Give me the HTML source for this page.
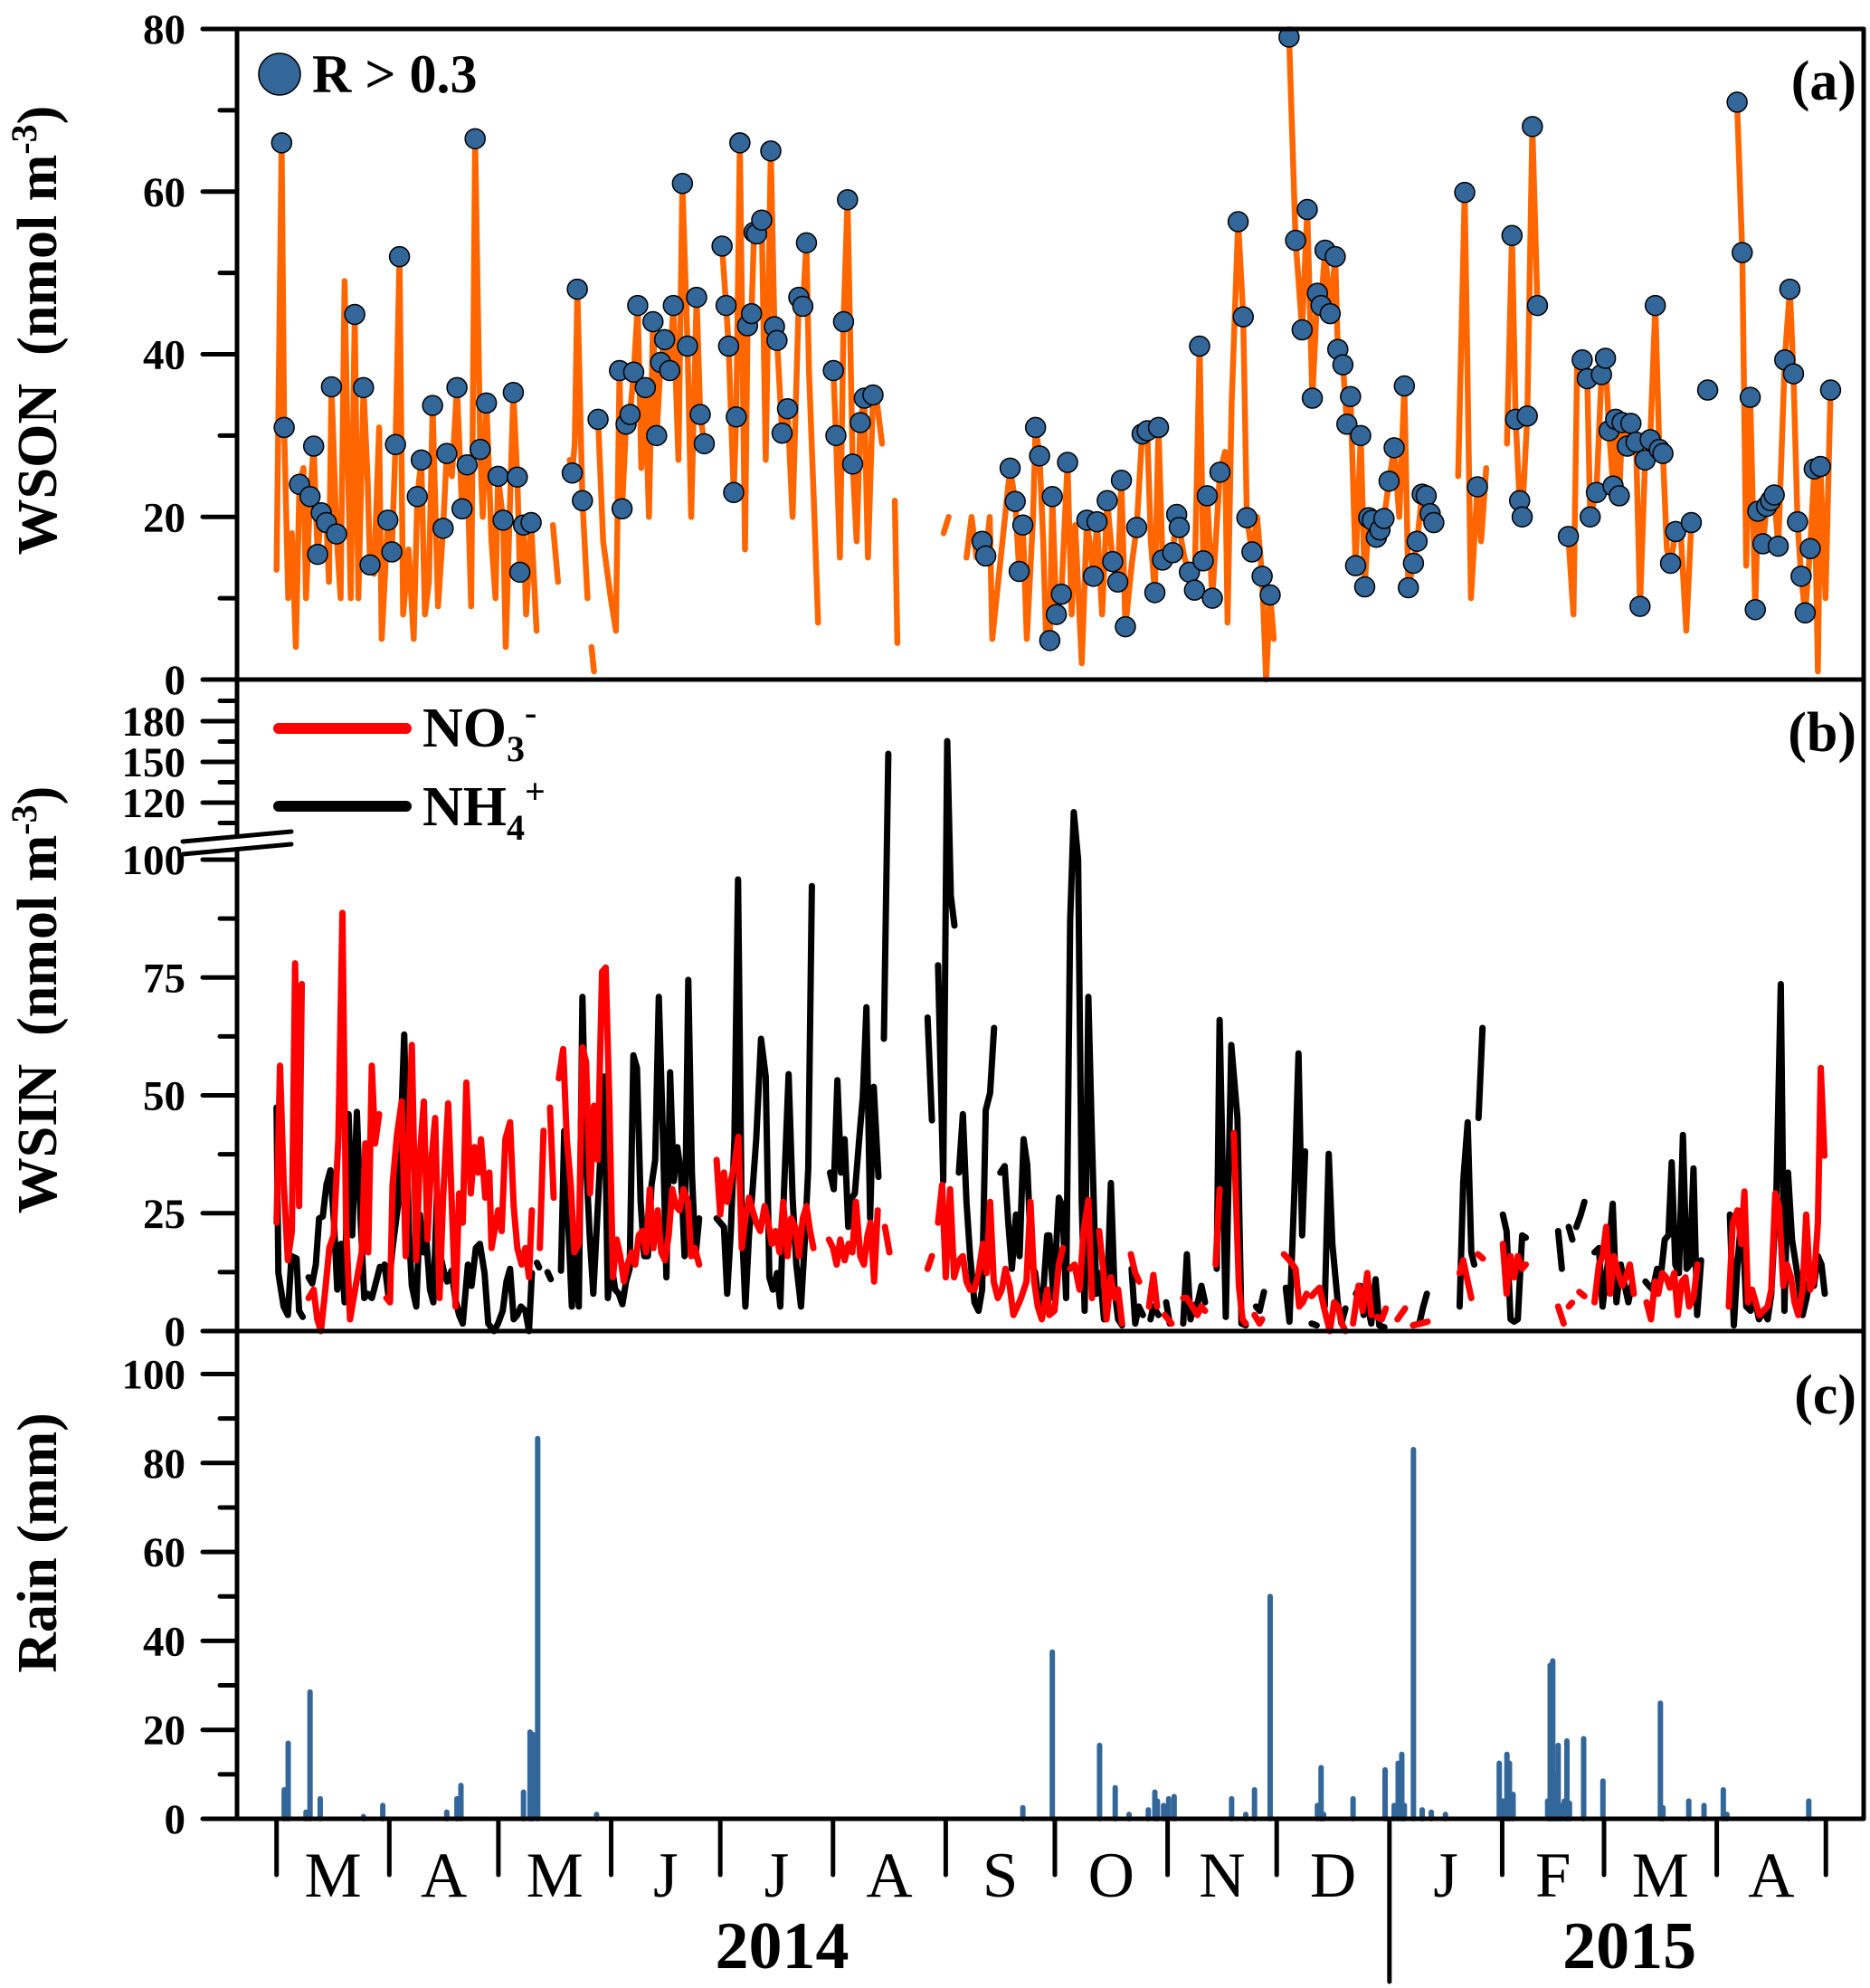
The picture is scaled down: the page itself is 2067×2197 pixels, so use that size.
<!DOCTYPE html>
<html>
<head>
<meta charset="utf-8">
<style>
html,body{margin:0;padding:0;background:#fff;}
svg{display:block;}
text{font-family:"Liberation Serif","Times New Roman",serif;}
</style>
</head>
<body>
<svg id="chart" width="2067" height="2197" viewBox="0 0 2067 2197" xmlns="http://www.w3.org/2000/svg">
<rect width="2067" height="2197" fill="#fff"/>
<g id="gA"></g>
<g id="gB"></g>
<g id="gC"></g>
<g id="gAxes"></g>
</svg>
<script>
// ---------- DATA ----------
const monthLabels = ["M","A","M","J","J","A","S","O","N","D","J","F","M","A"];
const monthStartDays = [0,31,61,92,122,153,184,214,245,275,306,337,365,396,426];
const yearLabels = ["2014","2015"];
const yearCenterDays = [139,372];
const ticksA = [0,20,40,60,80];
const ticksBLow = [0,25,50,75,100];
const ticksBHigh = [120,150,180];
const ticksC = [0,20,40,60,80,100];

const wsonLine = [[0,13.5],[1.4,66],[2.1,31],[3.2,10],[4.2,18],[5.3,4],[6.3,24],[7.4,26],[8.1,10],[9.2,22.5],[10.2,28.7],[11.3,15.4],[12.3,20.5],[13.7,19.3],[14.4,12],[15.1,36],[16.5,17.9],[17.6,10],[18.7,49],[19.7,25],[20.4,10],[21.5,44.9],[22.5,10],[23.9,35.9],[25,25],[25.7,14.1],[26.8,13],[28.2,31],[28.9,5],[30.6,19.6],[31.7,15.7],[32.7,28.9],[33.8,52],[34.8,8],[36.3,16],[37.7,5],[38.7,22.5],[39.8,27],[40.8,8],[41.9,12],[42.9,33.7],[44.4,9],[45.8,18.6],[46.8,27.8],[48.2,25],[49.6,35.9],[51,21],[52.4,26.4],[53.5,9],[54.6,66.5],[56,28.3],[56.7,20],[57.7,34],[59.1,17],[60.2,10],[60.9,25],[62.3,19.6],[63,4],[65.1,35.3],[66.2,24.9],[66.9,13.2],[67.9,19],[68.6,8],[70,19.3],[71.5,6],null,
[76,19],[77.4,12],null,[80.6,27],[81.3,25.4],[82,29],[82.7,48],[84.1,22],[85.5,10],null,[86.6,4],[87.3,1],null,
[88.4,32],[89.8,17],[91.9,10],[93.3,6],[94.3,38],[95,21],[96.1,31.4],[97.2,32.6],[98.2,37.8],[99.3,46],[100.3,26],[101.4,35.9],[102.4,20],[103.5,44],[104.5,30],[105.6,39],[106.7,41.8],[108.1,38],[109.1,46],[110.5,27],[111.6,61],[113,41],[114,20],[115.5,47],[116.5,32.6],[117.6,29],null,
[122.5,53.3],[123.6,46],[124.3,41],[125.7,23],[126.4,32.3],[127.4,66],[128.8,16],[129.5,43.5],[130.6,45],[131.3,55],[132,54.8],[133.4,56.5],[134.5,27],[135.9,65],[136.9,43.4],[137.6,41.7],[139,30.3],[140.5,33.3],[141.9,20],[143.6,47],[144.7,45.9],[145.7,53.7],[146.4,38],[147.8,21],[148.9,7],null,
[153.1,38],[153.8,30],[154.9,15],[155.9,44],[157,59],[158.4,26.5],[159.5,17],[160.5,31.6],[161.6,34.6],[162.6,15],[164,35],[165.1,34],[166.5,29],null,
[170,22],[170.7,4.5],null,[183.4,18],[184.8,20],null,
[189.7,15],[191.1,20],[192.5,15],[194,17],[195,15.2],[196.1,20],[196.8,5],[200.3,20],[201.7,26],[203.1,21.9],[204.2,13.3],[205.2,19],[206.3,5],[208,20],[208.7,31],[209.8,27.5],[210.8,17],[211.6,5],[212.6,4.8],[213.3,22.5],[214.4,8],[215.8,10.5],[217.5,26.7],[218.6,8],[219.6,19],[221.4,2],[222.8,19.6],[224.6,12.7],[225.6,19.4],[227,8],[228.4,22],[229.9,14.5],[231.3,12],[232.3,24.5],[233.4,6.5],[235.1,14],[236.5,18.7],[238,30.2],[239.4,30.6],[240.4,17],[241.5,10.7],[242.5,31],[243.6,14.7],[245,16],[246.4,15.6],[247.5,20.3],[248.2,18.7],[249.6,15],[251,13.2],[252.4,11],[253.8,41],[254.8,14.6],[255.9,22.6],[257.3,10],[259.4,25.5],[260.8,28],[261.5,7],[262.6,34],[264.4,56.3],[265.8,44.6],[266.8,19.9],[268.2,15.7],[269.6,20],[271,12.7],[272.1,0],[273.2,10.4],[274.2,5],null,
[278.4,79],[280.2,54],[282,43],[283.4,57.8],[284.8,34.6],[286.2,47.5],[287.2,46],[288.3,52.8],[289.7,45],[291.1,52],[291.8,40.6],[293.2,38.7],[294.3,31.4],[295.3,34.8],[296.7,14],[298.1,30],[299.2,11.4],[300.3,19.9],[301.3,19.6],[302.4,17.5],[303.4,18.4],[304.5,19.8],[305.9,24.4],[307.3,28.5],[308.7,20],[310.1,36.1],[311.2,11.3],[312.6,14.3],[313.6,17],[315,22.8],[316.1,22.6],[317.2,20.4],[318.2,19.3],null,
[324.9,25],[326.7,59.9],[328.4,10],[330.2,23.7],[331.2,17],[332.6,26],null,
[338.3,29],[339.7,54.6],[340.7,32],[341.8,22],[342.5,20],[343.9,32.4],[345.3,68],[346.7,46],null,
[355.2,17.6],[356.6,8],[357.6,39],[359,39.3],[360.4,37],[361.2,20],[362.9,23],[364.3,37.5],[365.4,39.5],[366.4,30.6],[367.5,23.8],[368.2,32],[369.2,22.6],[370,31.6],[371.4,28.7],[372.4,31.5],[373.8,29.2],[374.9,9],[376.3,27],[377.7,29.5],[379.1,46],[380.2,28.3],[381.2,27.8],[382.3,16],[383.3,14.3],[384.7,18.2],[386.1,18],[387.6,6],[389,19.3],null,
[401.6,71],[403,52.5],[404.1,14],[405.2,34.7],[406.6,8.6],[407.3,20.7],[408.7,16.7],[409.7,21.3],[410.8,22],[411.8,22.7],[412.9,16.4],[414.7,39.3],[416.1,48],[417.1,37.6],[418.2,19.4],[419.2,12.7],[420.3,8.2],[421.7,16.1],[422.8,25.9],[423.8,1],[424.5,26.2],[425.9,10],[427.3,35.6]];

const wsonMarkers = [[1.4,66],[2.1,31],[6.3,24],[9.2,22.5],[10.2,28.7],[11.3,15.4],[12.3,20.5],[13.7,19.3],[15.1,36],[16.5,17.9],[21.5,44.9],[23.9,35.9],[25.7,14.1],[30.6,19.6],[31.7,15.7],[32.7,28.9],[33.8,52],[38.7,22.5],[39.8,27],[42.9,33.7],[45.8,18.6],[46.8,27.8],[49.6,35.9],[51,21],[52.4,26.4],[54.6,66.5],[56,28.3],[57.7,34],[60.9,25],[62.3,19.6],[65.1,35.3],[66.2,24.9],[66.9,13.2],[67.9,19],[70,19.3],
[81.3,25.4],[82.7,48],[84.1,22],[88.4,32],[94.3,38],[95,21],[96.1,31.4],[97.2,32.6],[98.2,37.8],[99.3,46],[101.4,35.9],[103.5,44],[104.5,30],[105.6,39],[106.7,41.8],[108.1,38],[109.1,46],[111.6,61],[113,41],[115.5,47],[116.5,32.6],[117.6,29],
[122.5,53.3],[123.6,46],[124.3,41],[125.7,23],[126.4,32.3],[127.4,66],[129.5,43.5],[130.6,45],[131.3,55],[132,54.8],[133.4,56.5],[135.9,65],[136.9,43.4],[137.6,41.7],[139,30.3],[140.5,33.3],[143.6,47],[144.7,45.9],[145.7,53.7],
[153.1,38],[153.8,30],[155.9,44],[157,59],[158.4,26.5],[160.5,31.6],[161.6,34.6],[164,35],
[194,17],[195,15.2],[201.7,26],[203.1,21.9],[204.2,13.3],[205.2,19],[208.7,31],[209.8,27.5],[212.6,4.8],[213.3,22.5],[214.4,8],[215.8,10.5],[217.5,26.7],[222.8,19.6],[224.6,12.7],[225.6,19.4],[228.4,22],[229.9,14.5],[231.3,12],[232.3,24.5],[233.4,6.5],[236.5,18.7],[238,30.2],[239.4,30.6],[241.5,10.7],[242.5,31],[243.6,14.7],[246.4,15.6],[247.5,20.3],[248.2,18.7],[251,13.2],[252.4,11],[253.8,41],[254.8,14.6],[255.9,22.6],[257.3,10],[259.4,25.5],[264.4,56.3],[265.8,44.6],[266.8,19.9],[268.2,15.7],[271,12.7],[273.2,10.4],
[278.4,79],[280.2,54],[282,43],[283.4,57.8],[284.8,34.6],[286.2,47.5],[287.2,46],[288.3,52.8],[289.7,45],[291.1,52],[291.8,40.6],[293.2,38.7],[294.3,31.4],[295.3,34.8],[296.7,14],[298.1,30],[299.2,11.4],[300.3,19.9],[301.3,19.6],[302.4,17.5],[303.4,18.4],[304.5,19.8],[305.9,24.4],[307.3,28.5],[310.1,36.1],[311.2,11.3],[312.6,14.3],[313.6,17],[315,22.8],[316.1,22.6],[317.2,20.4],[318.2,19.3],
[326.7,59.9],[330.2,23.7],[339.7,54.6],[340.7,32],[341.8,22],[342.5,20],[343.9,32.4],[345.3,68],[346.7,46],
[355.2,17.6],[359,39.3],[360.4,37],[361.2,20],[362.9,23],[364.3,37.5],[365.4,39.5],[366.4,30.6],[367.5,23.8],[368.2,32],[369.2,22.6],[370,31.6],[371.4,28.7],[372.4,31.5],[373.8,29.2],[374.9,9],[376.3,27],[377.7,29.5],[379.1,46],[380.2,28.3],[381.2,27.8],[383.3,14.3],[384.7,18.2],[389,19.3],[393.5,35.6],
[401.6,71],[403,52.5],[405.2,34.7],[406.6,8.6],[407.3,20.7],[408.7,16.7],[409.7,21.3],[410.8,22],[411.8,22.7],[412.9,16.4],[414.7,39.3],[416.1,48],[417.1,37.6],[418.2,19.4],[419.2,12.7],[420.3,8.2],[421.7,16.1],[422.8,25.9],[424.5,26.2],[427.3,35.6]];

const nh4Line = [[0,47.4],[0.5,12.3],[1.95,5.2],[3.1,3.4],[4.1,15.9],[5.5,15.4],[6.2,4.3],[7.2,3],null,
[8.8,11.4],[9.8,10.1],[10.8,14.1],[11.7,23.9],[12.7,24.3],[13.7,31],[14.8,34.1],[15.8,23],[16.7,8.8],[17.7,18.5],[18.7,6.1],[19.8,46],[20.8,20.3],[22.1,46.5],[23.1,23.9],[24.1,7],[25.1,7.9],[26.2,7],[27.4,10.5],[28.4,13.6],null,
[29.7,14.1],[30.7,7.9],[31.9,17.6],[33.5,27.4],[35.1,62.9],[36.4,21.2],[37.2,9.6],[38.4,5.2],[39.4,24.7],[40.4,16.7],[41.2,19.4],[42.2,8.8],[43.1,6.1],[44.1,29.2],[45.1,15.9],[46.1,12.3],[46.9,10.5],[48.1,12.8],[49.1,7],[50.2,3.4],[51.2,1.6],[52.6,14.1],[53.6,9.6],[54.8,17.6],[55.9,18.5],[57.2,12.3],[58.2,1.6],[59.8,0],[60.9,1.6],[62.2,4.3],[63.2,10.5],[64.2,13.2],[65.2,2.5],[66.2,3.4],[67.2,5.2],[68.4,4.3],[69.4,0],[70.2,12.3],null,
[71.6,14.5],[72.2,13.5],null,[74.5,12.5],[75.4,11],null,
[78.2,12.8],[79.1,42.5],[80.2,23],[81.2,5.2],[82.1,18.5],[83.1,5.2],[84.1,70.9],[85.1,36.3],[86.1,20.3],[87.1,7.9],[88.1,23],[89.1,38.1],[90.1,54],[91.1,7],[92.1,14.1],[93.1,8.8],[94.1,7.9],[95.1,5.7],[96.1,10.5],[97.1,13.2],[98.1,58.5],[99.1,55.8],[100.1,27.4],[101.1,15.9],[102.1,15.9],[103.1,31],[104.1,36.3],[105.1,70.9],[106.2,42.5],[107.2,11.4],[108.2,54.9],[109.2,31.8],[110.2,39],[111.2,33.6],[112.2,15.9],[113.2,74.5],[114.2,33.6],[115.2,15.9],[116.2,23.9],null,
[121,23.9],[122,23],[123,22.1],[123.9,7.9],[124.9,21.2],[125.9,40.7],[126.9,95.8],[127.9,23],[128.9,5.2],[129.9,20.3],[130.9,30.1],[131.9,40.7],[133.2,62],[134.5,54],[135.5,11.4],[136.5,8.8],[137.6,12.3],[138.5,5.2],[139.5,29.2],[140.8,54.5],[141.9,28.3],[142.9,14.1],[144.2,5.2],[145.2,18.5],[146.2,34.5],[147.2,94.4],null,
[152.2,33.6],[153.2,30.1],[154.2,53.2],[155.2,33.6],[156.2,40.7],[157.2,22.1],[158.2,28.3],[159,29.2],[160.2,40.7],[161.2,49.6],[162.2,68.7],[163.2,23.9],[164.2,51.8],[165.5,32.7],null,[167,62],[168.2,156],null,
[179,66.5],[180.2,44.7],null,[181.9,77.6],[183.3,31.8],[184.4,165.3],[185.4,92.3],[186.4,86],null,
[187.6,33.6],[188.7,46],[189.7,27.4],[190.7,15.9],[191.9,6.1],[193,4.3],[194,8.8],[195,46.9],[196.2,50.5],[197.3,64.3],null,
[199,33.6],[200.2,35],[201.2,23],[202.2,13.2],[203.3,24.7],[204.3,15.9],[205.4,40.7],[206.4,35.4],[207.6,14.1],[208.6,12.3],[209.7,5.2],[210.7,7],[211.9,20.3],[212.5,20.3],[213.6,7],[215.1,28.3],[216.1,26.5],[217.1,7],[218.2,87],[219.2,113],[220.4,100],[221.4,27.4],[222.2,4.3],[223.2,70.9],[224.2,40.7],[225.4,7.9],[226.4,12.3],[227.5,2.5],[228.5,10.5],[229.4,31.4],[230.4,8.8],[231.4,2.5],[232.5,1.2],null,
[235.1,13.2],[236.1,1.6],[237.1,5.2],[238.2,3.4],null,[240.3,2.5],[241.1,5.2],[242.5,3.4],null,[244.6,6.1],[245.6,1.6],null,
[249.3,1.6],[250.3,16.3],[251.3,2.5],[252.3,5.2],[253.3,6.1],[254.3,9.6],[255.3,6.1],null,
[258.5,13.2],[259.3,66],[261,3],[262.5,60.7],[264.2,45.2],[265.3,1.6],[266.5,1.2],null,
[269.3,5.2],[270.3,4.3],[271.5,8.3],null,
[277.5,9.2],[278.5,2],[279.9,30.5],[281,58.9],[282,20.3],[282.8,38.1],null,[284.6,1.6],[286,1.2],null,
[288.2,5.2],[289.3,37.6],[290.3,18.5],[291.8,6.1],[292.8,1.6],[293.9,4.8],null,
[296.8,7.9],[297.9,9.6],[298.9,3.4],[299.9,6.1],[301,1.6],[302.2,11],[303.2,1.2],[304.6,0.8],null,
[312.5,1.2],[314.2,1.6],[315.3,5.2],[316.3,7.9],null,
[325.3,5.2],[326.3,31.8],[327.5,44.3],[328.5,16.7],[329.3,14.1],null,[330.5,45.2],[331.6,64.3],null,
[337.2,24.7],[338.2,21.2],[339.3,2.5],[340.3,2],[341.3,2.5],[342.5,20.3],[343.5,19.8],null,
[352.4,21.2],[353.4,13.2],null,[355.3,22.1],[356.3,19.4],null,[357.4,22.1],[358.6,24.7],[359.6,27.4],null,
[362.4,16.7],[363.6,17.6],[364.6,5.2],[366,14.1],[367.4,27],[368.4,6.1],[369.6,14.1],[370.7,9.6],[371.7,6.1],[372.7,10.1],null,
[376.4,10.5],[377.4,9.6],[378.4,8.8],[379.6,13.2],[380.7,12.3],[381.7,19.4],[382.7,20.3],[383.6,35.8],[384.6,14.1],[385.6,12.3],[386.7,41.6],[387.7,13.2],[388.6,14.1],[389.6,34.5],[390.6,3.4],[391.7,15],null,
[399.6,24.7],[400.7,1.2],[401.7,14.1],[402.9,25.6],[404.1,5.2],[405.3,4.3],[406.4,7],[407.6,2.5],[408.8,4.3],[410,2.5],[411,7.9],[412.4,29.2],[413.6,73.6],[414.6,4.3],[415.6,33.6],[416.7,19.4],[418.1,12.3],[419.6,3.4],[420.7,7],[421.7,11.4],[422.7,9.6],[423.8,15.9],[424.8,14.1],[425.7,7.9]];

const no3Line = [[0,23],[0.95,56.3],[1.95,31.8],[3.1,15],[4.2,21.2],[5.1,78],[6.2,26.5],[6.95,73.6],null,
[8.8,7],[10.2,8.8],[11.2,2.5],[12.2,0],[13.4,8.8],[14.5,17.6],[15.7,20.3],[17,40.7],[18.1,88.7],[19.1,23],[20.2,2.5],[21.2,7],[22.4,12.3],[23.4,16.7],[24.4,39.8],[25.2,16.7],[26.2,56.3],[27.1,39.8],[28.2,46],null,
[30.2,7],[31.2,6.1],[31.9,31],[33.1,41.6],[34.4,48.7],[35.5,15.9],[36.2,36.3],[37.2,60.7],[38.4,15],[39.4,37.2],[40.5,48.7],[41.5,19.4],[42.5,35.4],[43.6,45.2],[44.8,7],[45.8,28.3],[47.2,48.3],[48.2,26.5],[49.2,5.2],[50.2,29.2],[51.2,23],[52.2,52.7],[53.4,29.2],[54.4,39],[55.4,33.6],[56.2,40.7],[57.4,28.3],[58.5,33.6],[59.1,17.6],[60.1,22.1],[60.9,25.6],[61.9,21.2],[62.9,40.7],[64.2,44.3],[65.2,26.5],[66.2,17.6],[67.4,14.1],[68.4,17.6],[69.4,11.4],[70.2,25.6],null,
[72.4,17.6],[73.4,42.5],null,[75.2,47.4],[76.2,28.3],null,
[77.6,53.6],[78.8,59.8],[79.8,40.7],[80.9,31],[81.9,16.7],[83.1,18.5],[84.1,60.2],[85.1,57.1],[86.2,29.2],[87.3,47.8],[88.3,36.3],[89.5,76.2],[90.5,77.1],[91.5,48.7],[92.5,11.4],[93.5,19.4],[94.5,15.9],[95.5,10.5],[96.5,14.1],[97.6,16.7],[98.6,14.1],[99.6,20.3],[100.6,21.2],[101.6,16.7],[102.6,30.1],[103.6,17.6],[104.8,25.6],[105.8,16.7],[106.8,15],[107.8,20.3],[108.8,30.1],[109.8,26.5],[110.8,25.6],[111.9,30.1],[113.1,27.4],[114,15.9],[115,17.6],[116.2,14.1],null,
[121,36.3],[122,24.7],[123,33.6],[123.9,27.4],[124.9,31.8],[125.9,35.4],[127,41.2],[127.9,17.6],[128.9,23.9],[129.9,28.3],[130.9,25.6],[131.9,23],[133,21.2],[134.2,26.5],[135.2,23],[136.2,18.5],[137.2,21.2],[138.3,16.7],[139.3,27.4],[140.5,15.9],[141.5,23.9],[142.6,22.1],[143.6,15.9],[144.7,23.9],[145.7,26.5],[146.7,21.2],[147.6,17.6],null,
[151.9,19.4],[153,17.6],[154,14.1],[155,19.4],[156.2,15],[157.3,18.5],[158.3,16.7],[159.3,27.4],[160.5,15.9],[161.5,14.1],[162.5,20.3],[163.3,23],[164.3,10.5],[165.3,25.6],null,[167.3,22.1],[168.5,16.7],null,
[179,13.2],[180.2,15.9],null,
[181.9,23],[183,31],[184,11.4],[185.2,30.1],[186.3,11.4],[187.6,15],[188.7,15.9],[189.7,10.5],[190.7,8.8],[191.9,8.8],[193,12.3],[194.2,18.5],[195.2,12.3],[196.2,27.4],[197.2,10.5],[198.3,7],[199.4,8.8],[200.4,13.2],[201.6,9.6],[202.6,3.4],[203.7,5.2],[204.7,7],[206.2,10.5],[207.3,27.4],[208.3,10.5],[209.3,5.2],[210.4,2.5],[211.9,8.8],[212.5,3.4],[213.9,4.3],[215.1,14.1],[216.2,17.6],null,
[218.2,13.2],[219.4,14.1],[220.8,8.8],[221.9,21.2],[223.2,27.8],[224.2,7],null,
[226.2,21.2],[227.4,12.3],[228.2,2.5],[229.4,11.4],[230.5,7],[231.4,8.8],[232.5,1.6],null,
[234.9,16.3],[236.1,12.3],[237.2,10.5],null,[239.9,5.2],[241.1,11.9],[242.1,5.2],null,[244.2,3.4],[246.1,1.6],null,
[249.3,7],[250.3,7],[251.8,5.2],[253.2,3.4],[254.2,5.2],[255.3,4.3],null,
[258.2,14.1],[259.3,30.1],null,[263.2,42],[264.6,9.6],[265.6,2.5],[266.5,1.6],null,
[268.9,3.4],[270.3,1.6],[271,2.5],null,
[277,16.3],[278.5,15],[280.2,13.2],[281.2,5.2],[282.2,6.1],[283.2,7.9],null,
[284.6,7.4],[285.6,8.3],[286.8,9.2],[288.2,4.3],[289.6,0],[290.8,6.1],[291.9,5.2],[292.9,1.6],[293.9,0],null,
[296,1.6],[297.5,9.6],[298.6,4.3],[299.9,12.3],[301,3.4],null,[302.5,3],[303.9,2.5],[305,4.8],null,[308.2,2.5],[310.3,4.8],null,[312.5,1.2],[314.6,1.6],[316.5,2],null,
[325.3,12.3],[326.3,15],[327.5,10.5],[328.5,7],null,[330.3,16.3],[331.7,15.4],null,
[337.2,18.5],[338.2,7.9],[339.3,15.9],[340.3,11.4],[341.3,15.9],[342.5,13.2],[343.5,14.1],null,
[352.4,5.2],[353.9,1.6],null,[355.3,5.2],[356.2,6],null,[358.2,8.3],[359.6,7.4],null,
[362.4,6.1],[363.6,14.1],[364.6,15.9],[365.6,22.1],[366.7,7.9],[367.7,15.9],[368.9,12.3],[370,9.6],[371,11.4],[372.1,14.1],[373.2,7.9],null,
[376.7,6.1],[377.9,2.5],[379,10.5],[379.9,7.9],[381,12.3],[382.1,11.4],[383.1,9.2],[384.3,12.3],[385.3,3.4],[386.4,10.5],[387.4,11.4],[388.4,5.2],[389.6,7],[390.7,14.1],null,
[399.3,5.2],[400.4,23],[401.7,25.6],[402.7,18.5],[403.6,29.6],[404.6,6.1],[405.7,8.8],[406.7,6.1],[407.7,3.4],[408.8,4.3],[410,5.2],[411,8.8],[412.1,29.2],[413.1,26.5],[414.3,9.6],[415.3,14.1],[416.4,11.4],[417.4,6.1],[418.4,3.4],[419.6,8.8],[420.6,24.7],[421.7,8.8],[422.7,10.5],[423.8,23],[424.6,55.8],[425.6,37.2]];

const rainDays = [2.1,3.2,8.1,9.2,12.0,23.9,29.2,46.8,49.6,50.7,67.9,69.7,70.4,71.8,88.0,205.2,213.3,226.3,230.6,234.4,239.7,241.5,242.2,243.9,245.3,246.8,262.6,266.5,268.9,273.2,286.2,287.2,287.9,296.0,304.8,307.3,308.4,309.4,310.1,312.6,315.0,317.5,321.4,336.2,337.2,338.3,339.0,340.0,349.5,350.2,350.9,351.6,352.4,353.1,354.1,354.8,355.5,359.4,364.7,380.5,381.2,388.3,392.5,397.8,398.8,421.3];
const rainVals = [6.5,17,1.5,28.5,4.5,0.5,3,1.5,4.5,7.5,6,19.5,19,85.5,1,2.5,37.5,16.5,7,1,2,6,4,3,4.5,5,4.5,1,6.5,50,3,11.5,1,4.5,11,3,12.5,14.5,3,83,2,1.5,1,12.5,4,14.5,12.5,5.5,4,34.5,35.5,10,16.5,3,4,17.5,3.5,18,8.5,26,2.5,4,3,6.5,1,4];

// ---------- SCALES ----------
const X0 = 262, X1 = 2060;
function xDay(d){ return 305.7 + d*4.02; }
function yA(v){ return 751 - v*8.9875; }
function yB(v){ return v <= 100 ? 1471 - v*5.21 : 887 - (v-120)*1.5; }
function yC(v){ return 2010 - v*4.915; }

const NS = "http://www.w3.org/2000/svg";
function mk(tag, attrs, parent){
  const e = document.createElementNS(NS, tag);
  for (const k in attrs) e.setAttribute(k, attrs[k]);
  parent.appendChild(e);
  return e;
}
function pathFrom(pairs, yf){
  let d = "", pen = false;
  for (const p of pairs){
    if (p === null){ pen = false; continue; }
    d += (pen ? "L" : "M") + xDay(p[0]).toFixed(1) + " " + yf(p[1]).toFixed(1);
    pen = true;
  }
  return d;
}
const gA = document.getElementById("gA");
const gB = document.getElementById("gB");
const gC = document.getElementById("gC");
const gX = document.getElementById("gAxes");

// ---------- PANEL A ----------
const wl = mk("path", {d: pathFrom(wsonLine, yA), fill:"none", stroke:"#FF6600", "stroke-width":6.5, "stroke-linejoin":"round", "stroke-linecap":"round"}, gA);


for (const m of wsonMarkers){
  const c = mk("circle", {cx: xDay(m[0]), cy: yA(m[1]), r: 11, fill:"#336699", stroke:"#000", "stroke-width":1.5}, gA);
  
  
}

// ---------- PANEL B ----------
const nl = mk("path", {d: pathFrom(nh4Line, yB), fill:"none", stroke:"#000", "stroke-width":7, "stroke-linejoin":"round", "stroke-linecap":"round"}, gB);


const rl = mk("path", {d: pathFrom(no3Line, yB), fill:"none", stroke:"#FF0000", "stroke-width":7, "stroke-linejoin":"round", "stroke-linecap":"round"}, gB);



// ---------- PANEL C ----------
for (let i = 0; i < rainDays.length; i++){
  const x = xDay(rainDays[i]);
  const b = mk("line", {x1:x, x2:x, y1:yC(0), y2:yC(rainVals[i]), stroke:"#336699", "stroke-width":6, "stroke-linecap":"round"}, gC);
  
  
}

// ---------- AXES ----------
function line(x1,y1,x2,y2,w,name){
  const l = mk("line", {x1:x1,y1:y1,x2:x2,y2:y2,stroke:"#000","stroke-width":w,"stroke-linecap":"round"}, gX);
  
  
  return l;
}
function text(x,y,s,size,weight,anchor,name,extra){
  const t = mk("text", Object.assign({x:x,y:y,"font-size":size,"font-weight":weight,"text-anchor":anchor,fill:"#000"}, extra||{}), gX);
  t.textContent = s;
  
  
  return t;
}
line(X0,32,X1,32,5,'frame-top');
line(X0,32,X0,2010,5,'frame-left');
line(X1,32,X1,2010,5,'frame-right');
line(X0,751,X1,751,5,'panel-divider-ab');
line(X0,1471,X1,1471,5,'panel-divider-bc');
line(X0,2010,X1,2010,5,'frame-bottom');

for (const v of ticksA){
  line(224,yA(v),X0,yA(v),5,'y-tick-a');
  text(205,yA(v)+16,String(v),47,"bold","end",'y-tick-label-a');
}
for (let v = 10; v < 80; v += 20) line(243,yA(v),X0,yA(v),5,'y-minor-tick-a');
for (const v of ticksBLow){
  line(224,yB(v),X0,yB(v),5,'y-tick-b');
  if (v > 0) text(205,yB(v)+16,String(v),47,"bold","end",'y-tick-label-b');
}
text(205,1471+16,"0",47,"bold","end",'y-tick-label-b');
for (let v = 12.5; v < 100; v += 25) line(243,yB(v),X0,yB(v),5,'y-minor-tick-b');
for (const v of ticksBHigh){
  line(224,yB(v),X0,yB(v),5,'y-tick-b-high');
  text(205,yB(v)+16,String(v),47,"bold","end",'y-tick-label-b-high');
}
for (const v of [105,135,165,195]) line(243,yB(v),X0,yB(v),5,'y-minor-tick-b-high');
const br = mk("polygon",{points:"200,929 322,918 322,932 200,943",fill:"#fff"},gX);


line(202,930,322,919,5,'axis-break-line');
line(202,944,322,933,5,'axis-break-line');
for (const v of ticksC){
  line(224,yC(v),X0,yC(v),5,'y-tick-c');
  if (v > 0) text(205,yC(v)+16,String(v),47,"bold","end",'y-tick-label-c');
}
for (let v = 10; v < 110; v += 20) line(243,yC(v),X0,yC(v),5,'y-minor-tick-c');
text(205,2026,"0",47,"bold","end",'y-tick-label-c');

for (let i = 0; i < monthStartDays.length; i++){
  const x = xDay(monthStartDays[i]);
  const isYear = monthStartDays[i] === 306;
  line(x,2010,x,isYear ? 2190 : 2072,5,isYear ? 'year-divider' : 'x-tick');
}
for (let i = 0; i < monthLabels.length; i++){
  const xm = (xDay(monthStartDays[i]) + xDay(monthStartDays[i+1]))/2;
  text(xm,2096,monthLabels[i],71,"normal","middle",'month-label');
}
for (let i = 0; i < yearLabels.length; i++){
  text(xDay(yearCenterDays[i]),2175,yearLabels[i],74,"bold","middle",'year-label');
}

text(2052,110,"(a)",62,"bold","end",'panel-label-a');
text(2052,830,"(b)",62,"bold","end",'panel-label-b');
text(2052,1562,"(c)",62,"bold","end",'panel-label-c');

const t1 = text(0,0,"",62,"bold","middle",'y-axis-title-a',{transform:"translate(62,365) rotate(-90)"});
t1.innerHTML = 'WSON\u00a0\u00a0(nmol m<tspan dy="-22" font-size="40">-3</tspan><tspan dy="22">)</tspan>';
const t2 = text(0,0,"",62,"bold","middle",'y-axis-title-b',{transform:"translate(62,1105) rotate(-90)"});
t2.innerHTML = 'WSIN\u00a0\u00a0(nmol m<tspan dy="-22" font-size="40">-3</tspan><tspan dy="22">)</tspan>';
text(0,0,"Rain (mm)",62,"bold","middle",'y-axis-title-c',{transform:"translate(62,1705) rotate(-90)"});

const lc = mk("circle",{cx:309,cy:82,r:23,fill:"#336699",stroke:"#000","stroke-width":1.5},gX);


text(345,102,"R > 0.3",60,"bold","start",'legend-label-r');
const l1 = mk("line",{x1:308,y1:805,x2:449,y2:805,stroke:"#FF0000","stroke-width":12,"stroke-linecap":"round"},gX);


const l2 = mk("line",{x1:308,y1:891,x2:449,y2:891,stroke:"#000","stroke-width":12,"stroke-linecap":"round"},gX);


const n1 = text(467,825,"",62,"bold","start",'legend-label-no3');
n1.innerHTML = 'NO<tspan dy="16" font-size="40">3</tspan><tspan dy="-40" font-size="40">-</tspan>';
const n2 = text(467,912,"",62,"bold","start",'legend-label-nh4');
n2.innerHTML = 'NH<tspan dy="16" font-size="40">4</tspan><tspan dy="-40" font-size="40">+</tspan>';
</script>
</body>
</html>
